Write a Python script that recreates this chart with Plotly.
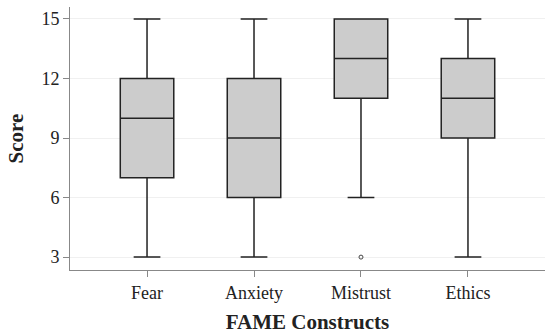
import plotly.graph_objects as go

categories = ["Fear", "Anxiety", "Mistrust", "Ethics"]
lower = [3, 3, 6, 3]
q1 = [7, 6, 11, 9]
median = [10, 9, 13, 11]
q3 = [12, 12, 15, 13]
upper = [15, 15, 15, 15]
outlier_cat = ["Mistrust"]
outlier_val = [3]
y_ticks = [3, 6, 9, 12, 15]

FONT = "Liberation Serif"

fig = go.Figure()
fig.add_trace(go.Box(
    x=categories, q1=q1, median=median, q3=q3,
    lowerfence=lower, upperfence=upper,
    fillcolor="#cccccc", line=dict(color="#222222", width=1.5),
    whiskerwidth=0.5, width=0.5, boxpoints=False, showlegend=False,
))
fig.add_trace(go.Scatter(
    x=outlier_cat, y=outlier_val, mode="markers",
    marker=dict(symbol="circle-open", size=4, color="#444444", line=dict(width=1)),
    showlegend=False,
))
fig.update_layout(
    width=550, height=336,
    margin=dict(l=70, r=5, t=7, b=66, autoexpand=False),
    plot_bgcolor="white", paper_bgcolor="white",
    font=dict(family=FONT, size=18, color="#222222"),
)
fig.update_xaxes(
    type="category", categoryorder="array", categoryarray=categories,
    range=[-0.72, 3.72], showline=True, linecolor="#888888", linewidth=1,
    ticks="outside", ticklen=6, tickcolor="#888888", showgrid=False,
    title=dict(text="<b>FAME Constructs</b>", font=dict(size=21, family=FONT), standoff=12),
)
fig.update_yaxes(
    range=[2.35, 15.6], tickvals=y_ticks, showline=True, linecolor="#888888", linewidth=1,
    ticks="outside", ticklen=6, tickcolor="#888888",
    showgrid=True, gridcolor="#f0f0f0", gridwidth=1, zeroline=False,
    title=dict(text="<b>Score</b>", font=dict(size=21, family=FONT), standoff=12),
)
fig.write_html("out.html", config={"displayModeBar": False},
               post_script="document.body.style.margin='0';")
